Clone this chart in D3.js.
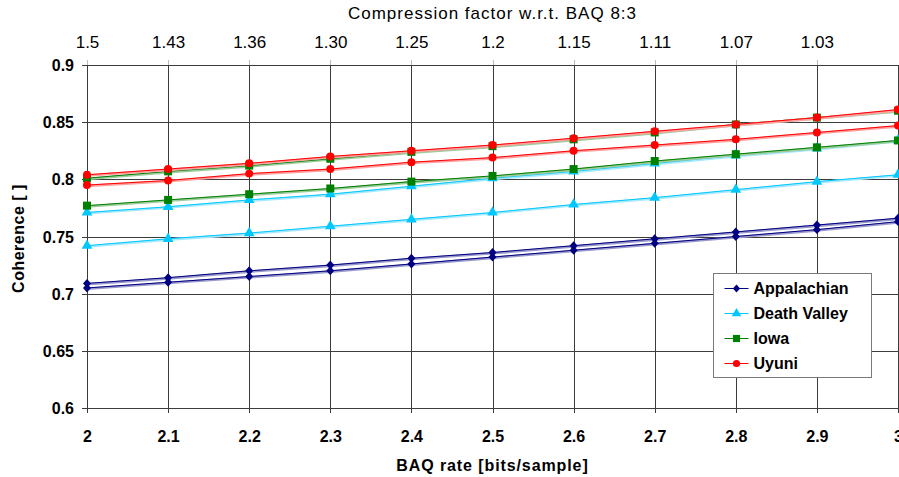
<!DOCTYPE html>
<html>
<head>
<meta charset="utf-8">
<script src="https://cdn.jsdelivr.net/npm/d3@7"></script>
<style>
  body { margin: 0; background: #fff; }
  svg { display: block; font-family: "Liberation Sans", Arial, sans-serif; }
</style>
</head>
<body>
<div id="chart"></div>
<script>
var rates = [2.0, 2.1, 2.2, 2.3, 2.4, 2.5, 2.6, 2.7, 2.8, 2.9, 3.0];
var compressionLabels = ["1.5", "1.43", "1.36", "1.30", "1.25", "1.2", "1.15", "1.11", "1.07", "1.03"];
var yTicks = [0.6, 0.65, 0.7, 0.75, 0.8, 0.85, 0.9];

// two curves per site
var appalachianHigh = [0.709, 0.714, 0.720, 0.725, 0.731, 0.736, 0.742, 0.748, 0.754, 0.760, 0.766];
var appalachianLow  = [0.705, 0.710, 0.715, 0.720, 0.726, 0.732, 0.738, 0.744, 0.750, 0.756, 0.763];
var deathValleyHigh = [0.771, 0.776, 0.782, 0.787, 0.794, 0.801, 0.807, 0.814, 0.821, 0.827, 0.834];
var deathValleyLow  = [0.742, 0.748, 0.753, 0.759, 0.765, 0.771, 0.778, 0.784, 0.791, 0.798, 0.804];
var iowaHigh = [0.801, 0.807, 0.812, 0.818, 0.824, 0.829, 0.835, 0.841, 0.848, 0.854, 0.860];
var iowaLow  = [0.777, 0.782, 0.787, 0.792, 0.798, 0.803, 0.809, 0.816, 0.822, 0.828, 0.834];
var uyuniHigh = [0.804, 0.809, 0.814, 0.820, 0.825, 0.830, 0.836, 0.842, 0.848, 0.854, 0.861];
var uyuniLow  = [0.795, 0.799, 0.805, 0.809, 0.815, 0.819, 0.825, 0.830, 0.835, 0.841, 0.847];

// wider diamond than d3.symbolDiamond
var fatDiamond = {
    draw: function (context, size)
    {
        var h = Math.sqrt(size / 2);
        var w = h * 0.9;
        context.moveTo(0, -h);
        context.lineTo(w, 0);
        context.lineTo(0, h);
        context.lineTo(-w, 0);
        context.closePath();
    }
};

var series = [
    { name: "Appalachian", color: "#000080", light: "#9a9acc", symbol: fatDiamond, size: 40, curves: [appalachianHigh, appalachianLow] },
    { name: "Death Valley", color: "#00c8ff", light: "#a6e8ff", symbol: d3.symbolTriangle, size: 50, curves: [deathValleyHigh, deathValleyLow] },
    { name: "Iowa", color: "#008000", light: "#9ccc9c", symbol: d3.symbolSquare, size: 64, curves: [iowaHigh, iowaLow] },
    { name: "Uyuni", color: "#ff0000", light: "#ffa0a0", symbol: d3.symbolCircle, size: 50, curves: [uyuniHigh, uyuniLow] }
];

var svgWidth = 899;
var svgHeight = 477;

var margin = { top: 65, right: 1, bottom: 69, left: 87 };
var width = svgWidth - margin.left - margin.right;
var height = svgHeight - margin.top - margin.bottom;

var svg = d3.select("#chart")
    .append("svg")
    .attr("width", svgWidth)
    .attr("height", svgHeight);

var chartGroup = svg.append("g")
    .attr("transform", `translate(${margin.left}, ${margin.top})`);

var xScale = d3.scaleLinear().domain([2, 3]).range([0, width]);
var yScale = d3.scaleLinear().domain([0.6, 0.9]).range([height, 0]);

// grid lines (with small outside ticks)
chartGroup.append("g")
    .selectAll("line")
    .data(rates)
    .enter()
    .append("line")
    .attr("x1", d => Math.round(xScale(d)) + 0.5)
    .attr("x2", d => Math.round(xScale(d)) + 0.5)
    .attr("y1", 0)
    .attr("y2", height + 5)
    .attr("stroke", "#3c3c3c")
    .attr("stroke-width", 1);

chartGroup.append("g")
    .selectAll("line")
    .data(yTicks)
    .enter()
    .append("line")
    .attr("x1", -5)
    .attr("x2", width)
    .attr("y1", d => Math.round(yScale(d)) + 0.5)
    .attr("y2", d => Math.round(yScale(d)) + 0.5)
    .attr("stroke", "#3c3c3c")
    .attr("stroke-width", 1);

// top ticks
chartGroup.append("g")
    .selectAll("line")
    .data(rates.slice(0, compressionLabels.length))
    .enter()
    .append("line")
    .attr("x1", d => Math.round(xScale(d)) + 0.5)
    .attr("x2", d => Math.round(xScale(d)) + 0.5)
    .attr("y1", -5)
    .attr("y2", 0)
    .attr("stroke", "#bbb");

// axis labels
var bottomAxis = d3.axisBottom(xScale).tickValues(rates).tickFormat(d3.format("")).tickSize(0);
var xAxis = chartGroup.append("g")
    .attr("transform", `translate(0, ${height})`)
    .call(bottomAxis);
xAxis.select(".domain").remove();
xAxis.selectAll("text")
    .attr("dy", 0)
    .attr("y", 34)
    .attr("fill", "#000")
    .style("font-size", "16px")
    .style("font-weight", "bold")
    .style("font-family", "Liberation Sans, Arial, sans-serif");

var leftAxis = d3.axisLeft(yScale).tickValues(yTicks).tickFormat(d3.format("")).tickSize(0);
var yAxis = chartGroup.append("g").call(leftAxis);
yAxis.select(".domain").remove();
yAxis.selectAll("text")
    .attr("x", -13)
    .attr("dy", "0.35em")
    .attr("fill", "#000")
    .style("font-size", "16px")
    .style("font-weight", "bold")
    .style("font-family", "Liberation Sans, Arial, sans-serif");

var topAxis = d3.axisTop(xScale)
    .tickValues(rates.slice(0, compressionLabels.length))
    .tickFormat((d, i) => compressionLabels[i])
    .tickSize(0);
var xTop = chartGroup.append("g").call(topAxis);
xTop.select(".domain").remove();
xTop.selectAll("text")
    .attr("y", -23)
    .attr("dy", "0.35em")
    .attr("fill", "#000")
    .style("font-size", "17px")
    .style("font-family", "Liberation Sans, Arial, sans-serif");

svg.append("text")
    .attr("x", margin.left + width / 2)
    .attr("y", 19)
    .attr("text-anchor", "middle")
    .style("font-size", "17px")
    .style("letter-spacing", "1px")
    .text("Compression factor w.r.t. BAQ 8:3");

svg.append("text")
    .attr("x", margin.left + width / 2)
    .attr("y", 471)
    .attr("text-anchor", "middle")
    .style("font-size", "16px")
    .style("font-weight", "bold")
    .style("letter-spacing", "0.9px")
    .text("BAQ rate [bits/sample]");

svg.append("text")
    .attr("transform", "rotate(-90)")
    .attr("x", -(margin.top + height / 2) - 2)
    .attr("y", 24)
    .attr("text-anchor", "middle")
    .style("font-size", "16px")
    .style("font-weight", "bold")
    .style("letter-spacing", "0.5px")
    .text("Coherence [ ]");

// series lines
var line = d3.line()
    .x((d, i) => xScale(rates[i]))
    .y(d => yScale(d));

series.forEach(s =>
{
    s.curves.forEach(c =>
    {
        chartGroup.append("path")
            .datum(c)
            .attr("fill", "none")
            .attr("stroke", s.light)
            .attr("stroke-width", 2.6)
            .attr("transform", "translate(0, 0.8)")
            .attr("d", line);
        chartGroup.append("path")
            .datum(c)
            .attr("fill", "none")
            .attr("stroke", s.color)
            .attr("stroke-width", 1)
            .attr("d", line);
    });
});

series.forEach(s =>
{
    s.curves.forEach(c =>
    {
        chartGroup.append("g")
            .selectAll("path")
            .data(c)
            .enter()
            .append("path")
            .attr("transform", (d, i) => `translate(${xScale(rates[i])}, ${yScale(d)})`)
            .attr("d", d3.symbol().type(s.symbol).size(s.size))
            .attr("fill", s.color);
    });
});

// legend
var legend = svg.append("g")
    .attr("transform", "translate(713.5, 273.5)");

legend.append("rect")
    .attr("width", 158)
    .attr("height", 104)
    .attr("fill", "#fff")
    .attr("stroke", "#7a7a7a")
    .attr("stroke-width", 1);

var legendItems = legend.selectAll(".item")
    .data(series)
    .enter()
    .append("g")
    .attr("transform", (d, i) => `translate(0, ${15 + i * 25})`);

legendItems.append("line")
    .attr("x1", 11)
    .attr("x2", 35)
    .attr("stroke", d => d.color)
    .attr("stroke-width", 1);

legendItems.append("path")
    .attr("transform", "translate(23, 0)")
    .attr("d", d => d3.symbol().type(d.symbol).size(d.size * 0.8)())
    .attr("fill", d => d.color);

legendItems.append("text")
    .attr("x", 40)
    .attr("dy", "0.36em")
    .style("font-size", "16px")
    .style("font-weight", "bold")
    .text(d => d.name);
</script>
</body>
</html>
